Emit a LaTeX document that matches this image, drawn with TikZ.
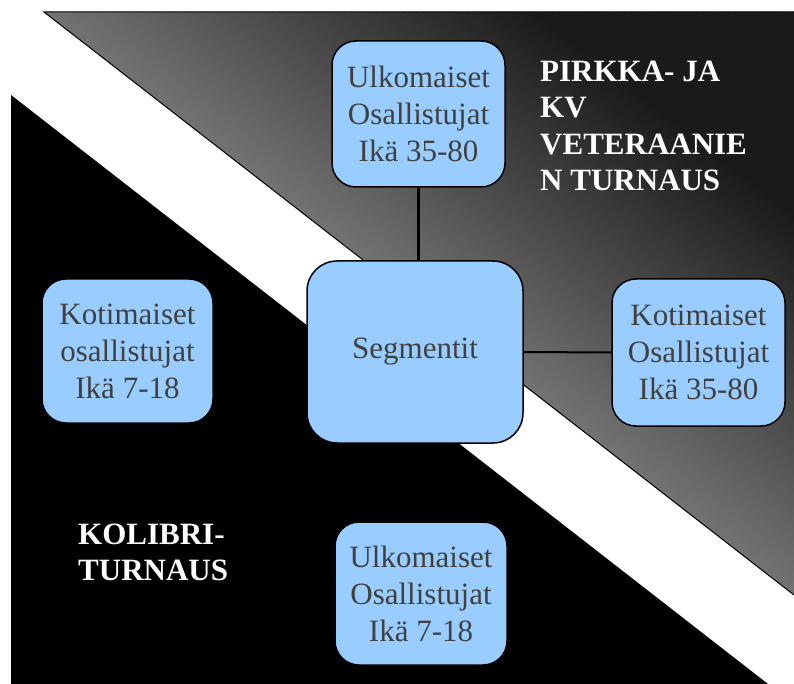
\documentclass[tikz,border=0pt]{standalone}
\usepackage{fontspec}
\setmainfont{Liberation Serif}
\definecolor{boxblue}{HTML}{99CCFF}
\definecolor{boxtext}{HTML}{404040}
\tikzset{
  segbox/.style={draw=black, fill=boxblue, line width=1.5pt, rounded corners=24pt,
    align=center, inner sep=0pt, text=boxtext,
    font=\fontsize{31}{37}\selectfont},
  conn/.style={draw=black, line width=2.5pt},
  bandlabel/.style={anchor=north west, inner sep=0pt, align=left, text=white,
    font=\bfseries\fontsize{31}{36.5}\selectfont}
}
\begin{document}
\begin{tikzpicture}[x=1pt,y=-1pt]
\useasboundingbox (0,0) rectangle (794,684);
\fill[white] (0,0) rectangle (794,684);
% black lower-left triangle
\fill[black] (11,95) -- (11,684) -- (768,684) -- cycle;
% gray upper-right region with gradient
\begin{scope}
  \clip (44,12) -- (794,12) -- (794,595) -- cycle;
  \foreach \t in {0,4,...,480} {
    \pgfmathsetmacro\g{max(26,114-0.2933*\t)/255}
    \definecolor{bandc}{gray}{\g}
    \fill[bandc] ({44-200*0.7895+\t*0.6137},{12-200*0.6137-\t*0.7895})
      -- ({44+1400*0.7895+\t*0.6137},{12+1400*0.6137-\t*0.7895})
      -- ({44+1400*0.7895+(\t+5)*0.6137},{12+1400*0.6137-(\t+5)*0.7895})
      -- ({44-200*0.7895+(\t+5)*0.6137},{12-200*0.6137-(\t+5)*0.7895}) -- cycle;
  }
\end{scope}
\draw[black, line width=1pt] (794,12) -- (44,12) -- (794,595);
% boxes
\node[segbox, minimum width=216pt, minimum height=182pt, rounded corners=30pt] (seg) at (415,352) {Segmentit};
\node[segbox, minimum width=173pt, minimum height=146pt] (top) at (418.5,114) {Ulkomaiset\\Osallistujat\\Ikä 35-80};
\node[segbox, minimum width=173pt, minimum height=147pt] (right) at (698.5,352.5) {Kotimaiset\\Osallistujat\\Ikä 35-80};
\node[segbox, minimum width=171pt, minimum height=144pt] (left) at (127.5,351) {Kotimaiset\\osallistujat\\Ikä 7-18};
\node[segbox, minimum width=172pt, minimum height=143pt] (bottom) at (421,593.5) {Ulkomaiset\\Osallistujat\\Ikä 7-18};
% connectors
\draw[conn] (top.south) -- (top.south |- seg.north);
\draw[conn, line width=2pt] (seg.east) -- (right.west);
\draw[conn] (seg.west) -- (left.east);
\draw[conn] (bottom.north) -- (bottom.north |- seg.south);
% labels
\node[bandlabel] (pirkka) at (540,60.5) {PIRKKA- JA\\KV\\VETERAANIE\\N TURNAUS};
\node[bandlabel] (kolibri) at (78,523.5) {KOLIBRI-\\TURNAUS};
\end{tikzpicture}
\end{document}
